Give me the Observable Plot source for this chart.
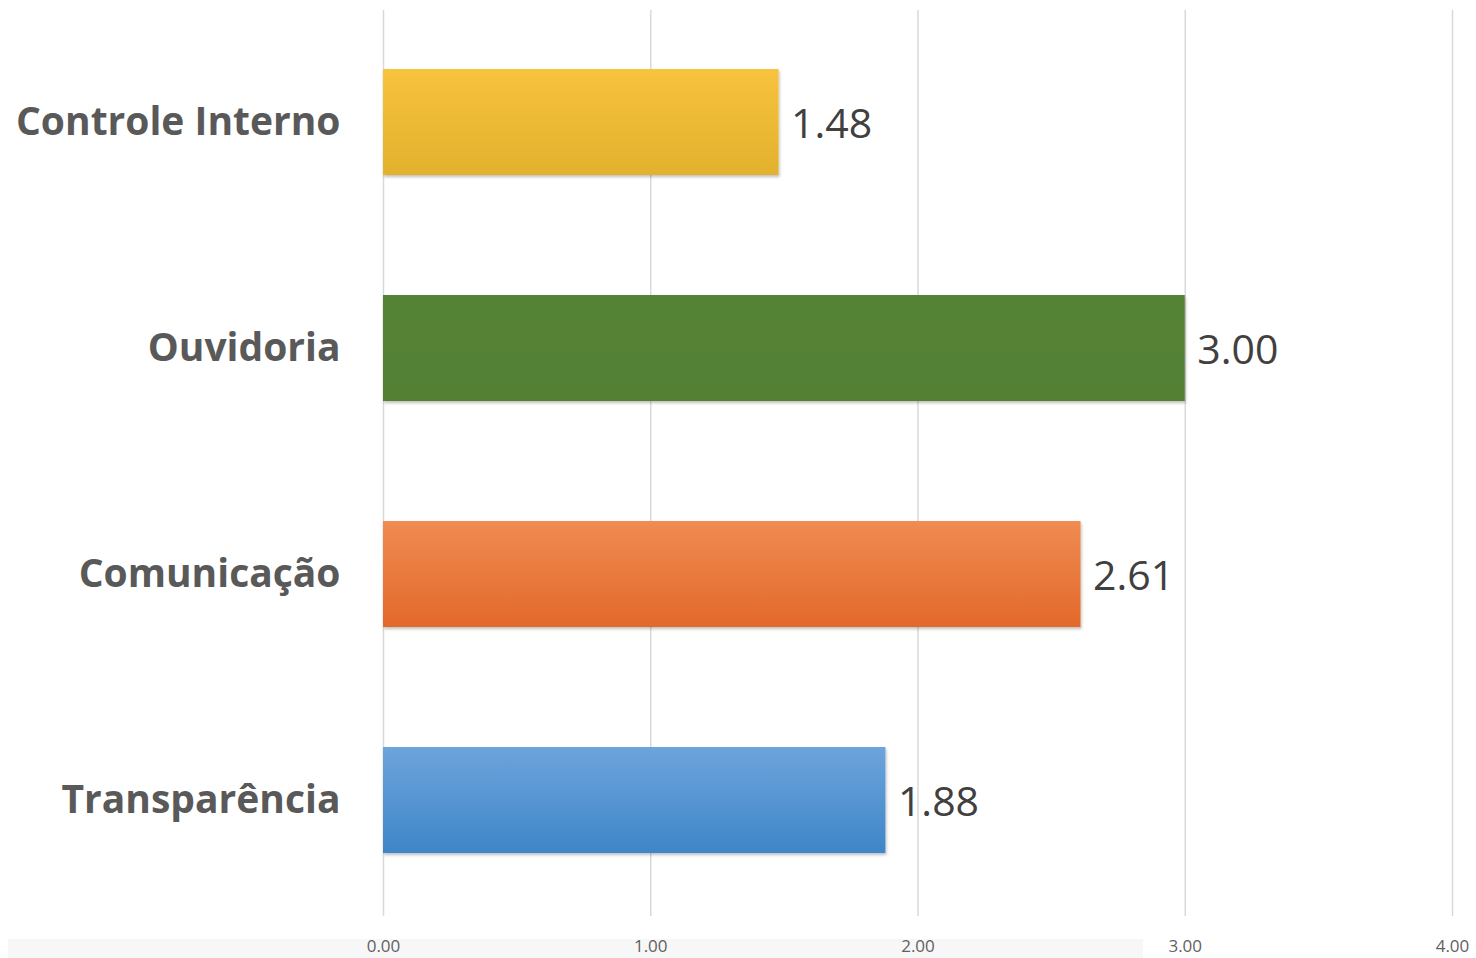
<!DOCTYPE html>
<html>
<head>
<meta charset="utf-8">
<script src="https://cdn.jsdelivr.net/npm/d3@7"></script>
<script src="https://cdn.jsdelivr.net/npm/@observablehq/plot@0.6"></script>
<style>
  html, body { margin: 0; padding: 0; background: #fff; }
  #chart { position: relative; width: 1476px; height: 958px; }
  #band { position: absolute; left: 8px; top: 939px; width: 1135px; height: 19px; background: #f7f7f7; }
  #chart svg { position: absolute; left: 0; top: 0; }
</style>
</head>
<body>
<div id="chart"><div id="band"></div></div>
<script>
const categories = ["Controle Interno", "Ouvidoria", "Comunicação", "Transparência"];
const values = [1.48, 3.00, 2.61, 1.88];
const gradientIds = ["gYellow", "gGreen", "gOrange", "gBlue"];
const xTicks = [0, 1, 2, 3, 4];

const data = categories.map((c, i) => ({category: c, value: values[i], fill: `url(#${gradientIds[i]})`}));

const gradStops = {
  gYellow: ["#f8c33d", "#e2b12d"],
  gGreen: ["#558336", "#528033"],
  gOrange: ["#f08b52", "#e2692a"],
  gBlue: ["#6da4dc", "#3f86c8"]
};

const defs = () => {
  const g = d3.create("svg:defs");
  for (const [id, [a, b]] of Object.entries(gradStops)) {
    const lg = g.append("linearGradient").attr("id", id).attr("x1", 0).attr("y1", 0).attr("x2", 0).attr("y2", 1);
    lg.append("stop").attr("offset", "0%").attr("stop-color", a);
    lg.append("stop").attr("offset", "100%").attr("stop-color", b);
  }
  const f = g.append("filter").attr("id", "shadow").attr("x", "-5%").attr("y", "-10%").attr("width", "110%").attr("height", "130%");
  f.append("feDropShadow").attr("dx", 1).attr("dy", 2).attr("stdDeviation", 1.5).attr("flood-color", "#000").attr("flood-opacity", 0.25);
  return g.node();
};

const plot = Plot.plot({
  width: 1476,
  height: 958,
  marginLeft: 383,
  marginRight: 24,
  marginTop: 10,
  marginBottom: 42,
  style: {background: "transparent", overflow: "visible"},
  x: {domain: [0, 4], ticks: xTicks, tickFormat: d => d.toFixed(2), label: null},
  y: {domain: categories, range: [8.5, 914.5], paddingInner: 0.53, paddingOuter: 0.2606, align: 0.5, label: null},
  color: {type: "identity"},
  marks: [
    defs,
    Plot.gridX(xTicks, {stroke: "#d9d9d9", strokeOpacity: 1, strokeWidth: 1.5}),
    Plot.barX(data, {y: "category", x: "value", fill: "fill"}),
    Plot.text(data, {y: "category", x: "value", text: d => d.value.toFixed(2), textAnchor: "start", dx: 12, dy: 2, fontSize: 41, fill: "#404040", fontFamily: "Open Sans"}),
    Plot.axisX(xTicks, {tickSize: 0, tickPadding: 23, fontSize: 17, fill: "#5f5f5f", fontFamily: "Open Sans", tickFormat: d => d.toFixed(2), label: null}),
    Plot.axisY({tickSize: 0, tickPadding: 43, fontSize: 39, fontWeight: "bold", fill: "#595959", fontFamily: "Open Sans", label: null})
  ]
});
plot.querySelectorAll("g[aria-label='bar'] rect").forEach(r => r.setAttribute("filter", "url(#shadow)"));
document.getElementById("chart").appendChild(plot);
</script>
</body>
</html>
